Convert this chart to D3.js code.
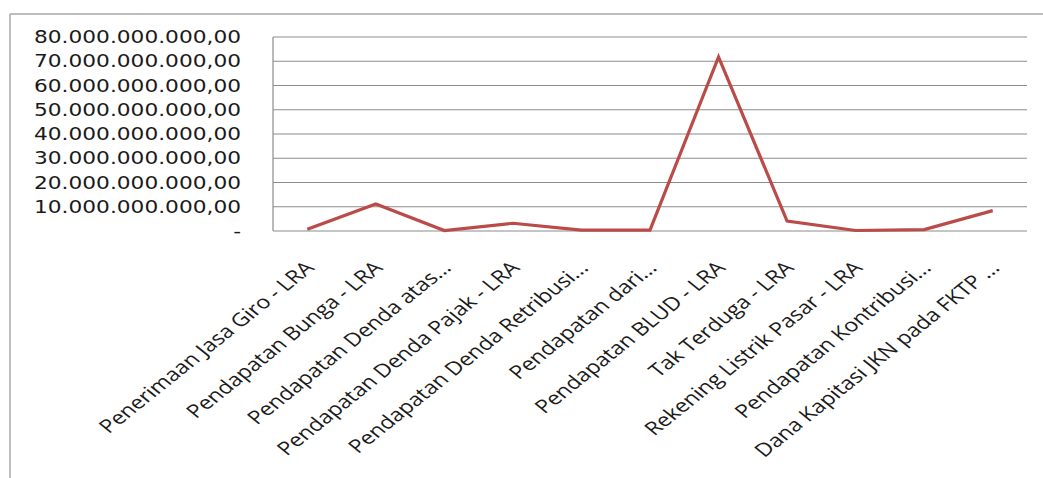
<!DOCTYPE html>
<html>
<head>
<meta charset="utf-8">
<script src="https://cdn.jsdelivr.net/npm/d3@7"></script>
<style>
  html, body { margin: 0; padding: 0; background: #fff; }
  svg { display: block; }
</style>
</head>
<body>
<svg id="chart" width="1043" height="478"></svg>
<script>
// Revenue accounts (labels as shown, truncated where the account name is long)
const categories = [
  "Penerimaan Jasa Giro - LRA",
  "Pendapatan Bunga - LRA",
  "Pendapatan Denda atas...",
  "Pendapatan Denda Pajak - LRA",
  "Pendapatan Denda Retribusi...",
  "Pendapatan dari...",
  "Pendapatan BLUD - LRA",
  "Tak Terduga - LRA",
  "Rekening Listrik Pasar - LRA",
  "Pendapatan Kontribusi...",
  "Dana Kapitasi JKN pada FKTP ..."
];

// Realised amounts in rupiah
const values = [
  0.7e9, 11.1e9, 0.2e9, 3.2e9, 0.4e9, 0.4e9,
  71.8e9, 4.1e9, 0.2e9, 0.6e9, 8.4e9
];

// Value axis ticks
const yTicks = [0, 10e9, 20e9, 30e9, 40e9, 50e9, 60e9, 70e9, 80e9];

const svg = d3.select("#chart");

const plot = { left: 273, right: 1027, top: 37, bottom: 231 };

const x = d3.scalePoint()
  .domain(categories)
  .range([plot.left, plot.right])
  .padding(0.5);

const y = d3.scaleLinear()
  .domain([0, 80e9])
  .range([plot.bottom, plot.top]);

// Indonesian number format: "." thousands, "," decimals; zero shown as a dash
const idLocale = d3.formatLocale({ decimal: ",", thousands: ".", grouping: [3], currency: ["Rp", ""] });
const fmt = idLocale.format(",.2f");
const tickLabel = v => v === 0 ? "-" : fmt(v);

// Chart frame
svg.append("line")
  .attr("x1", 10).attr("x2", 1043).attr("y1", 14).attr("y2", 14)
  .attr("stroke", "#a9a9a9").attr("stroke-width", 1.5);
svg.append("line")
  .attr("x1", 10).attr("x2", 10).attr("y1", 14).attr("y2", 478)
  .attr("stroke", "#a9a9a9").attr("stroke-width", 1.5);

// Horizontal gridlines
svg.append("g")
  .selectAll("line")
  .data(yTicks)
  .join("line")
  .attr("x1", plot.left).attr("x2", plot.right)
  .attr("y1", d => y(d)).attr("y2", d => y(d))
  .attr("stroke", "#8c8c8c").attr("stroke-width", 1.2);

// Vertical axis line
svg.append("line")
  .attr("x1", plot.left).attr("x2", plot.left)
  .attr("y1", plot.top).attr("y2", plot.bottom)
  .attr("stroke", "#8c8c8c").attr("stroke-width", 1.2);

// Value axis labels (wide face, right-aligned)
const yAxis = d3.axisLeft(y)
  .tickValues(yTicks)
  .tickFormat(tickLabel)
  .tickSize(0)
  .tickPadding(0);

const yg = svg.append("g")
  .attr("transform", `translate(241,0) scale(1.24,1)`)
  .call(yAxis);
yg.select(".domain").remove();
yg.selectAll("text")
  .attr("font-family", "DejaVu Sans, Verdana, sans-serif")
  .attr("font-size", 17.5)
  .attr("fill", "#1a1a1a");

// Category labels, slanted
const xg = svg.append("g");
xg.selectAll("text")
  .data(categories)
  .join("text")
  .attr("transform", d => `translate(${x(d) + 8},${plot.bottom + 38}) scale(1.25,1) rotate(-45)`)
  .attr("text-anchor", "end")
  .attr("font-family", "Open Sans, Noto Sans, sans-serif")
  .attr("font-size", 18.5)
  .attr("fill", "#1a1a1a")
  .text(d => d);

// Series line
const line = d3.line()
  .x((d, i) => x(categories[i]))
  .y(d => y(d));

svg.append("path")
  .datum(values)
  .attr("d", line)
  .attr("fill", "none")
  .attr("stroke", "#bb4b49")
  .attr("stroke-width", 3.2)
  .attr("stroke-linejoin", "miter");
</script>
</body>
</html>
